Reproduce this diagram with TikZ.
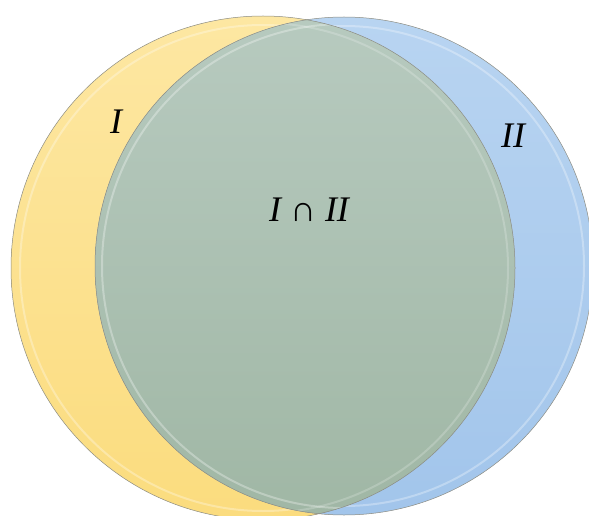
\documentclass[tikz,border=0pt]{standalone}
\usepackage{tikz}
\usepackage{fontspec}
\setmainfont{Liberation Serif}
\usetikzlibrary{positioning}
\definecolor{yellowtop}{HTML}{FDE7A2}
\definecolor{yellowbot}{HTML}{FBDC7E}
\definecolor{bluetop}{HTML}{B8D4F1}
\definecolor{bluebot}{HTML}{A2C5EB}
\definecolor{lenstop}{HTML}{B7CABF}
\definecolor{lensbot}{HTML}{A0B7A5}
\definecolor{edge}{HTML}{8C8C82}
\tikzset{
  yellowset/.style={top color=yellowtop, bottom color=yellowbot},
  blueset/.style={top color=bluetop, bottom color=bluebot},
  lensset/.style={top color=lenstop, bottom color=lensbot},
  outline/.style={draw=edge, line width=0.5pt},
  rim/.style={draw=white, line width=2pt, draw opacity=0.3},
  setlabel/.style={font=\fontsize{36}{42}\selectfont\itshape, text=black, inner sep=0pt}
}
\begin{document}
\begin{tikzpicture}[x=1pt,y=-1pt]
\useasboundingbox (0,0) rectangle (589,516);
\clip (0,0) rectangle (589,516);
\coordinate (cI) at (263,268);
\coordinate (cII) at (344,266);
\shade[yellowset] (cI) circle (252pt);
\draw[rim] (cI) circle (243pt);
\shade[blueset] (cII) circle (249pt);
\draw[rim] (cII) circle (240pt);
\begin{scope}
  \clip (cI) circle (252pt);
  \shade[lensset] (cII) circle (249pt);
  \clip (cII) circle (249pt);
  \draw[rim] (cII) circle (242pt);
  \draw[rim, draw opacity=0.2] (cI) circle (245pt);
\end{scope}
\draw[outline] (cI) circle (252pt);
\draw[outline] (cII) circle (249pt);
\node[setlabel] (labI) at (116,122) {I};
\node[setlabel] (labII) at (513,136) {II};
\node[setlabel] (labIcapII) at (309,210) {I {\upshape ∩} II};
\end{tikzpicture}
\end{document}
